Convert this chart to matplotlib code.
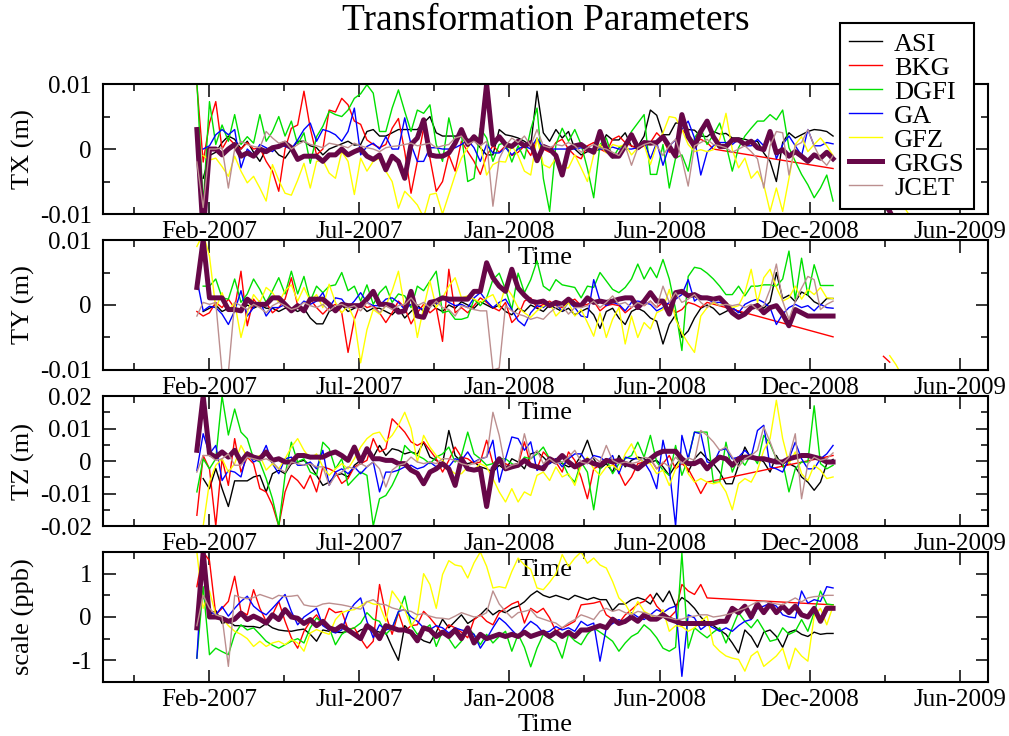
import numpy as np
import matplotlib.pyplot as plt
from matplotlib.lines import Line2D

plt.rcParams['font.family'] = ['Liberation Serif', 'DejaVu Serif']

centres = ["ASI", "BKG", "DGFI", "GA", "GFZ", "GRGS", "JCET"]
colours = ["black", "#ff0000", "#00e000", "#0000ff", "#ffff00", "#670748", "#bc8f8f"]
widths = [1.0, 1.0, 1.0, 1.0, 1.0, 3.6, 1.0]

# x axis is counted in weeks from the first weekly solution (late Jan 2007)
tick_weeks = [1.9, 25.8, 49.6, 73.5, 97.3, 121.2]
tick_labels = ["Feb-2007", "Jul-2007", "Jan-2008", "Jun-2008", "Dec-2008", "Jun-2009"]
minor_weeks = [-10.0, 13.8, 37.7, 61.5, 85.4, 109.2]

# ---- TX, mm (None = no solution that week) ----
tx_asi = [None, -4.5, -1, -0.5, 1, 2, 1.5, 0, 1.2, -0.5,
          -1.9, 0, 0.2, -0.9, -1.4, 0, 1.2, 1.2, 0.5, 0.2,
          -0.9, 0, 0.4, 0.8, 1.2, 0.6, 0.7, 2.7, 3, 2,
          2, 2.5, 3, 3, 3, 3, 4, 5, 2.5, 2,
          2, 2, 2, 1.5, 1.4, 0.2, -0.9, -0.9, 3, 2.2,
          2, 1.7, 1.2, 0.5, 8.9, 2.5, 1.2, 3, 1.7, 2.7,
          0, -0.9, -0.4, -0.2, -0.1, 2.2, 1.4, 1.4, 2.5, 0.4,
          0.4, 2, 6, 5.2, 2.2, 2.2, 4, 4, 3, 2.9,
          2, 1.9, 2.7, 2.3, 2.4, 1.7, 1.7, 1.5, 1.2, 1.2,
          -0.6, -1.9, -5, 1, 2.5, 1.7, 2.2, 2.7, 3, 2.9,
          2.7, 2]
tx_bkg = [9.9, -2, 4, 7.3, 0, 1.7, 0.7, 0, 1, 0,
          0.2, -1.9, -3.4, -6.5, 0, 3.2, 3.7, 8.9, 3.2, -0.9,
          0, 6, 5.7, 7.8, 6.8, 4.3, 3.8, 1.4, 0.7, 0.2,
          0.7, 3.2, 4.7, -0.4, -6.8, -1.9, 3.2, -1.4, -6.5, -5,
          -0.9, -3.4, 1.2, -0.4, -1.9, -3.9, -1, 0.5, -0.5, 0.5,
          -1, -0.5, 0.5, -1, 1.5, 0, -0.5, 1, 1.5, 0,
          -1, -1.5, 0.5, 1, 0, -0.5, 1.5, 2, 1, 0.5,
          0, 0.5, 1, 2.5, 1.5, -0.5, 0, 3, 2, 1,
          1.5, 1, 0, None, None, None, None, None, None, None,
          None, None, None, None, None, None, None, None, None, None,
          None, -3]
tx_dgfi = [10.4, -8.5, 7.3, 0.7, 3.7, 1.2, 5.3, 0.7, 1.9, 0.9,
           5.3, 1.2, 2.7, 5, 2, 4.3, 0.7, 2.5, -2.2, 1.9,
           3.5, 5.8, 5.3, 5, 6, 7.8, 8.5, 9.9, 8.6, 2.7,
           2.7, 6.3, 9.1, 5.8, 2.7, 6, 5.5, 6.8, 0.7, -1.9,
           4.8, 0.7, 2.2, -5, -4.5, 3.2, 1.7, -1.9, 0.7, 1,
           -2, 0.5, -1.5, 3, 6.3, -4.5, -9.6, 0.7, 3.2, 1.2,
           3, 0.7, -3, -7.5, 0.7, 1.7, -1.4, 0.2, 0.7, 2.7,
           4, 5.3, -3.9, -3.9, 0.7, -6, -1.4, -0.9, -3.4, 1.7,
           3.2, 0.7, 2.2, 4, 0.7, -3.4, 0.2, 2, 3.2, 4.3,
           4.3, 5.3, 4.5, 6, 0.2, -1.9, -3.9, -5.5, -7.5, -6,
           -4, -8]
tx_ga = [None, 0, 0.5, 2.2, 3, 2.2, 3, -2.9, 0, -0.9,
         0.7, 0.2, -0.4, 0.7, 0.4, 0, 1.4, 3, 4, 1.2,
         3, 2.7, 2.2, 1.2, 2.7, 6.3, -0.9, 0.4, 0.9, 0,
         1.9, 0, 0, 4.8, 0.7, -1.9, -1.9, 0.2, 0.2, 0,
         0, 0.2, 0.7, 1.4, 0.2, -1.9, 0.7, -0.6, -0.6, 0.2,
         -0.9, 0, 0.5, 0, 1.7, 0.2, 0, 0, 0, 0,
         0, 0.2, 0, 0, 0, 0, 0.3, 0, 0, 0,
         0.2, 1.2, -1.5, 1, -2.5, 0.5, 1.4, 3, 4.3, 1.7,
         -4, -0.5, 0.5, 1, 1, 0.7, 1.5, 0.5, 0.5, 1.5,
         0.5, 2.7, -1.5, 0.7, 2, 0.5, -1, 3, 0.5, 0.5,
         1, 0.8]
tx_gfz = [None, -1, -1.7, -1.4, -2.7, -4.2, -1.1, -3.4, -5.2, -4.2,
          -6, -8, -2.4, -4.8, -6.8, -7.1, -4.8, -2.2, -6, -1.9,
          -1.7, -3.7, -4.5, -0.4, -1.9, -7, -1.4, -3.4, -1.9, -1.4,
          -3.4, -5, -9.1, -6.5, -7.5, -8.6, -10.5, -7, -6.8, -10,
          -7, -4, -1.4, 0.2, 1.9, 0.7, -4, -2.4, -1.9, -2,
          0.5, -1, -3.4, -4, 1.7, -2.4, -2.9, -1.4, -2.9, -2.9,
          -0.9, -2.9, -5, -0.9, 0.7, -0.6, 0.7, 0.4, 0.7, -0.9,
          0.2, 0.7, -2.4, 0.7, 2.5, 5, 4.8, 3, 0.7, -0.4,
          -0.1, -0.4, -0.1, 1.5, 5.5, -0.1, -2.9, -1.4, -4.5, -3.4,
          -5.5, -9.6, -6, -9.6, -4.5, 0.7, 1.9, -0.4, 0.7, 1.7,
          0.5, -1]
tx_grgs = [3, -13, 0, 0, -0.9, 0, 0.7, -1.1, -0.6, -1.1,
           0, -0.4, 0.2, 0.4, 0.9, 0.2, -1.6, -1.1, -1.1, -1.1,
           -1.9, -0.9, -0.9, 0, -0.9, -0.4, 0, -1.1, -1.6, -0.9,
           -3.2, -1.1, -1.9, -4.5, 0.7, 1.7, 4.5, -0.9, -1.1, -1.1,
           -0.6, 0.9, 3, 0.7, 1.9, 0.9, 10, 0.7, 1.9, 0.7,
           0.4, 1.2, 0.5, 1, -1.8, 0.4, 0, -1, -4, 0,
           0.5, 0.7, 0, -0.5, 2.7, 0, -1.1, -1.1, 0.5, 2.2,
           0.2, 1, 0.9, 1, 1.9, 0.4, -1.1, 5.3, 1.9, 0.4,
           2.7, 4.3, 1.9, 0.4, 0.4, 1.4, 1.4, 0.7, 1.2, 0.2,
           -0.1, 2.7, -0.6, -0.1, -1.1, -0.4, -1.1, -1.9, -0.9, -1.4,
           -0.5, -1.5]
tx_jcet = [-2, -9, 0, 0, 0.2, -6, 0, 1.2, 0.7, 0.4,
           0.2, 2.7, 1.7, 0.9, 1.2, 0, 0.7, 1.2, 0.7, 0.5,
           0.2, 0.9, 0.7, 0.5, 0.2, 0.9, 0.5, 0.2, 0, -0.4,
           0.2, 0.4, 0.5, 0.7, 0.9, 0.5, 0.7, 0.9, 0.2, 0.5,
           0.7, 1.7, 2, 0.7, 1.2, 0.5, 1.2, -8.8, -1.5, 0.5,
           1.7, 1, 2, 0.5, 3, 0.5, 0.2, 0.7, 0.5, 1,
           0.5, -0.5, 0.2, 0.7, 0.2, 0, -0.5, -1, 0.5, -2.5,
           0.2, 0.7, 1, 0.5, -1, 0.5, 1.5, -1.5, -5.7, 0.5,
           1, 1.5, 0.7, 0.5, 0.2, -0.5, 0, 0.5, -0.4, -1.5,
           -6, 0.5, 2.7, 2.5, -4, 0.5, 1, 3, 0.5, -1.5,
           -2.5, -1]
# solutions after the winter gap: (first week, values)
tx_late = {"GRGS": (109, [-8.0, -9.6, -11.5]), "GFZ": (112, [-8.5, -10.0, -11.5])}

# ---- TY, mm ----
ty_asi = [None, -1, -0.5, 0, -1, -0.5, -0.5, -1, 0, -0.5,
          0, -0.5, -0.5, -1, -0.5, -0.5, -1, -0.5, -2, -2.9,
          -2.9, -1, -0.5, 0, -1, -0.5, 0, -1, -0.5, -0.5,
          -1, -1.5, -0.5, -2, -1, 0, -1, 0.5, -0.5, -1,
          0, -0.5, 0.5, 0, -0.5, 0.5, 0, -0.5, 0, -1,
          -1.5, -0.5, -1, 0, -0.5, -1, 0, -0.5, -1, -0.5,
          -1.5, -1, -0.5, -1.5, -3.6, -1, -0.5, -2, -3, -1,
          -0.5, -1, -2, -2.5, -6, -3, -1.5, -5, -4, -2,
          -0.5, 0, -0.5, -1.5, -1, -0.5, -1, -1.5, -0.5, 0.2,
          -0.5, 0.5, 5, 1, 1.5, 0.5, 2, 1.5, 0.5, 0,
          1, 1]
ty_bkg = [-1, -1.7, -1.2, 0.4, -0.4, 0.9, -0.5, 5.2, -3.2, 0.9,
          -0.4, 0.4, -1.2, -0.4, 0.9, 4.2, -0.1, -0.9, 0.9, -0.4,
          -1.4, -0.4, 0.1, -1.2, -7.3, -2.2, 0.4, -0.4, -0.1, -1.2,
          -2.7, -1.2, 0.6, -0.4, -2.9, -1.2, 0.1, -1.2, -0.4, -5.6,
          5.5, -1.2, -0.4, -1.2, -0.1, 1.1, 0.4, -0.4, -0.9, 0.4,
          -2.7, -1.7, 0.6, 1.1, -0.4, 0.1, 0.6, -0.1, -0.4, 0.4,
          0.9, -0.1, 0.1, 0.6, -0.9, -0.1, 0.1, -0.1, -1.2, -0.4,
          0.4, -0.1, 0.6, -0.4, 0.4, 0.1, -1.2, -0.7, 0.4, 0.1,
          -0.4, 0.4, None, None, None, None, None, None, None, None,
          None, None, None, None, None, None, None, None, None, None,
          None, -4.9]
ty_dgfi = [None, 2.9, 2.9, 4, 1.1, 0.9, 4, 0.4, 1.7, 4,
           2.4, 0.4, 2.2, 4.2, 1.7, 5.2, 1.7, 4.4, 0.6, 2.9,
           1.9, 2.9, 3.1, 5, 2.2, 2.9, 0.6, 3.1, 0.1, 1.9,
           2.9, 0.4, 1.7, 1.4, -0.4, 2.9, 2.2, 3.7, 5.2, -1.2,
           -0.9, -2.2, -2.2, -1.9, 0.9, -0.1, 1.1, 3.9, 4.9, 2.4,
           -0.7, 4.9, 1.9, 3.9, 6.8, 2.9, 2.2, 3.9, 3.1, 2.9,
           2.7, 1.1, 2.9, 2.7, 5, 3.7, 2.4, 1.9, 2.7, 4,
           6.3, 4, 5.8, 4.2, 7, 4, -0.7, -7, 4.4, 5.8,
           5.6, 4.9, 4, 2.9, 1.6, 1.6, 2.9, 1.4, 2.9, 2.9,
           3.1, 3.1, 2.9, 4, 8.3, 0.9, 7.2, 1.5, 6.2, 3,
           3, 3]
ty_ga = [4, -0.9, -0.2, -0.4, -1.4, -3, -0.9, 2.2, -1.7, -0.4,
         0.6, -1.7, -0.4, -0.4, 0.1, -0.7, -0.4, 0.6, 0.1, 0.6,
         1.9, -0.4, 1.1, 0.9, -0.4, 0.6, 1.9, 0.4, -0.1, -0.1,
         0.9, 1.1, 0.4, -0.7, 0.1, -0.4, -0.7, 0.6, 0.1, 1.1,
         0.4, -0.1, 0.1, -0.4, 1.1, 1.9, 0.6, -0.4, 0.4, 0.9,
         -0.7, -2.4, -3.2, -1.2, -0.1, -0.4, 0.4, 0.1, -0.9, 0.4,
         -0.4, -1.7, -1.9, 3.9, 0.6, -0.1, 0.4, 0.1, -0.9, 0.4,
         0.6, 0.4, 0.1, -0.9, -0.4, 0.4, 0.9, 1.6, 3.9, 0.6,
         1.4, 0.9, 0.4, 0.4, 0.1, -0.4, -1.2, 0.1, 0.6, 0.9,
         0.4, -0.4, -3, -1.4, -0.4, 0.1, -0.4, -0.1, -0.9, 0.1,
         -0.4, -0.5]
ty_gfz = [9, 11, 7.5, -0.5, 1.9, -0.9, 0.4, -5, -1.2, 1.6,
          0.4, 2.7, 1.9, 0.4, 2.2, 3.1, 0.6, 2.7, 0.6, 1.6,
          -0.4, 3.2, 0.4, -1.2, -0.1, -2.2, -8.9, -3.8, -0.7, -1.4,
          -0.1, 2.2, 5.2, -0.4, 1.1, -5, -0.4, 3.7, -0.4, 1.1,
          2.9, 4.2, 1.1, 1.4, 0.9, 0.4, 1.1, 1.6, -0.4, 2.9,
          1.5, -0.4, -1.2, -1.9, -0.9, -0.2, 0.4, -1.7, -0.7, 0.4,
          -1.7, -0.7, -2.7, -4.8, -1.2, -5, -2.2, -0.4, -6, -1.7,
          -5, -2.7, -3.7, -1.2, -0.7, 2.4, -2.2, -4.3, -5.9, -7.3,
          -1.7, -0.4, 0.4, -0.1, 0.4, -0.4, -0.1, 1.9, 5.5, 0.4,
          4.2, 5.5, 2.7, 0.6, 1.1, 2.9, 0.9, 2.4, 1.6, 2.7,
          1.1, 1]
ty_grgs = [2.7, 10, 1.1, 1.1, 1.1, -0.7, -0.7, -0.9, 0.9, 0.1,
           0.1, 0.1, 1.1, 1.1, 0.1, -0.9, -0.1, -0.9, 0.9, 0.9,
           0.9, 0.1, -0.9, 0.1, -0.1, -0.1, -0.1, 0.9, 2.1, 0.1,
           0.1, -0.1, -1.1, -0.9, 2.1, -1.7, -1.9, 0.4, 0.6, 1.1,
           0.9, 0.9, 0.9, 0.9, 2.1, 2.1, 6.5, 4.2, 2.9, 2.1,
           5.5, 2.6, 1.5, 0.6, 0.4, 0.6, -0.1, 0.4, 0.1, 0.9,
           0.1, -0.1, 1.1, 0.4, 0.6, 0.4, 0.6, 0.9, 1.1, 1.1,
           -0.4, 0.6, 1.9, 0.6, 0.6, -1.4, 1.9, 2.1, 1.4, 1.6,
           1.1, 1.1, 0.9, 1.1, 0.1, -1.2, -1.9, -1.4, -0.4, -0.1,
           -1.2, -0.4, -0.1, -1.4, -3.2, -0.7, -1.2, -1.7, -1.7, -1.7,
           -1.7, -1.7]
ty_jcet = [-1.7, 0.4, 0.1, 0.4, -10.4, -10.4, 0.4, -0.1, -0.7, 0.1,
           -0.4, -1.2, -0.1, 0.4, -0.1, -0.7, -0.4, 0.4, -0.1, -0.4,
           0.1, -0.9, -0.1, 0.1, -0.4, -0.1, -0.9, 0.4, -0.4, -1.2,
           -0.1, -0.7, -0.1, 0.1, 1.1, -0.1, 0.4, -0.4, 0.6, -0.4,
           -0.7, -1.7, -0.1, -0.4, -0.7, -0.9, -0.9, -10, -9.7, -0.1,
           -0.9, -1.4, -1.7, -2.2, -1.9, -2.2, -1.2, -0.4, -0.1, -1.4,
           -0.4, -0.4, -0.1, 0.6, -0.4, 0.4, 1.4, 0.1, 0.4, -0.4,
           0.4, -0.1, 0.6, -0.4, 2.9, 0.4, 1.9, 0.4, 0.9, 1.6,
           0.4, -0.4, 0.6, -0.1, 0.1, -0.1, 0.1, -0.4, 0.1, -0.7,
           -0.1, 2.4, 6.3, 0.6, -2.2, 0.6, 2.6, 4.4, 3.9, -0.7,
           0.1, 0.6]
ty_late = {"BKG": (109, [-7.9, -8.8]), "GFZ": (110, [-7.8, -9.2, -11.0])}

# ---- TZ, mm ----
tz_asi = [None, -5.4, -8.5, -2.3, -8.5, -14, -6.1, -6.1, -6.1, -4.9,
          -4.4, -9.5, -3.9, -2.8, -3.9, -0.8, -0.3, 0.2, -1.3, -4.4,
          -7.5, -6.5, -4.4, -3.9, -4.9, -1.3, 0.2, 3.3, 1.2, 4.8,
          1.7, 3.8, 3.3, 2.2, 2.8, 2.2, 5.8, 1.2, 0.2, -0.8,
          9.4, 1.7, -0.3, -0.8, -0.3, -1.8, -2.4, -3.4, -1.3, -2.8,
          0.7, -0.3, -2.4, 2.2, 2.8, 1.2, -0.8, 0.7, -0.8, -1.8,
          -1.3, 1.7, 6.4, 0.7, -2.4, -0.8, -3.4, 1.7, -1.8, 0.2,
          1.2, 0.7, -0.3, 0.2, -1.8, -4.4, -1.3, 1.2, -3.4, 0.7,
          2.8, 0.7, -0.8, -3.4, -7, -7, -1.3, 4.3, 0.7, 1.2,
          -0.3, -3.4, 1.7, -1.8, -0.8, -1.8, -4.9, -6.5, -9, -6.5,
          -0.8, 0.5]
tz_bkg = [-16.7, 1.7, -2.4, -20, 0.7, -7.5, 6.9, -3.4, 1.2, -0.8,
          -8.5, -9.5, -13.6, -20, -9.5, -4.4, -6, -8.5, -4.4, -9.5,
          -1.8, -2.4, -3.4, -6.9, -5.4, -1.8, -0.8, 0.2, 6.9, 2.8,
          3.8, 13, 11, 8.9, 5.9, 4.8, 5.9, 3.3, 0.7, -3.4,
          0.2, 4.3, 1.2, 0.7, -0.8, -0.3, 6.4, -0.8, -0.3, -0.8,
          -1.8, -1.3, 5.9, -1.3, -2.4, 2.8, 0.7, -0.3, -3.4, 2.8,
          0.2, -5, -11.6, -2.4, -1.3, 0.7, -0.8, -3.4, -7.5, -4.9,
          -0.8, -0.3, 0.7, -2.4, -0.8, 1.7, -2.4, -0.8, -2.4, -6,
          -10, -6.5, None, None, None, None, None, None, None, None,
          None, None, None, None, None, None, None, None, None, None,
          None, 1.7]
tz_dgfi = [-9.5, 0.7, -2.4, 0.7, 20, 8, 16, 8.9, 6.9, 0.7,
           -0.3, -5.4, -11.6, -20, -4.4, 5.8, -0.3, 0.7, -3.4, -4.4,
           5.8, 3.8, -2.4, 0.7, -7.5, -5.4, -3.4, -4.4, -20, -11.6,
           -10.6, -7.5, -3.4, 4.8, 2.8, 1.7, 0.7, -0.8, 1.2, 2.2,
           4.3, -0.3, 1.7, 8.9, 2.2, 0.7, -1.3, -0.8, 0.7, 0.7,
           -0.8, -1.8, 1.2, 0.7, 2.2, 4.3, 0.7, -0.3, -0.3, -4.4,
           -6.5, -0.3, -3.4, -15, -2.4, 0.7, -3.9, -0.8, 0.7, 1.7,
           5.8, 1.2, 7.9, -0.3, -2.8, -4.4, 4.8, -4.4, 0.7, 8.9,
           8.9, 8.9, -6.5, -6.5, 5.8, -3.4, 1.2, -1.3, 2.2, -0.8,
           7.9, 5.3, 0.7, -0.3, -9.5, -2.4, -0.3, -0.3, 17, -0.8,
           -2.4, -1.3]
tz_ga = [-2.9, 8.4, 2.2, 4.8, -6, -2.9, -3.4, -4.9, 2.8, -0.3,
         0.7, 4.8, -0.8, -3.9, 0.7, 1.2, -1.3, -1.3, -0.3, -2.4,
         3.3, -7.5, -3.4, -2.4, -3.9, -1.8, -3.9, -1.8, -0.3, -9.5,
         -3.4, -3.4, -2.8, -1.8, -1.3, -2.4, -1.8, -0.3, -1.8, -0.8,
         -1.8, 0.7, 0.2, 2.8, -0.3, 0.7, 1.2, 6.4, -6.5, 0.7,
         7.4, 6.9, 3.3, 5.9, -2.9, -1.3, -0.8, 0.7, -1.8, 0.7,
         2.2, 2.2, -0.8, 1.7, 1.2, -0.3, 1.7, -3.9, 1.2, 0.7,
         0.7, -0.3, -3.4, -8.5, 6.4, -2.4, -20, 7.9, 0.7, 8.9,
         8.4, -0.3, -0.8, 3.3, 3.8, 0.7, 1.2, 3.3, 1.2, 9.4,
         11, -1.8, -2.4, -3.4, 0.7, 5.8, 0.7, -2.4, -2.4, 0.7,
         2.2, 4.8]
tz_gfz = [None, -20, -6.5, -1.3, 0.7, -3.4, -0.8, 4.8, 1.2, 0.7,
          1.7, -2.8, -0.8, -2.4, 0.7, 4.3, 6.9, 3.3, 0.7, 2.2,
          -1.8, -4.4, -2.4, -0.8, -2.4, 0.7, 4.3, 6.9, 8.4, 8.9,
          5.9, 7.9, 11, 15, 10, -0.3, 7.9, 4.3, 1.7, 0.2,
          -2.4, -3.9, -3.9, -1.8, -2.8, -0.8, -1.8, -5.4, -9.5, -12.6,
          -8.5, -12.6, -9.5, -10.6, -4.4, -3.4, -6, -1.8, -4.9, -3.9,
          -7.5, -1.3, 1.2, -2.4, -4.4, -1.8, -1.3, -2.8, 2.2, 5.3,
          0.7, -0.3, -0.8, -3.9, -2.8, -7.5, -2.4, 1.2, -3.9, -6.5,
          -5.4, -6.5, -7, -6.5, -9.5, -15, -7, -5.4, -6.5, -2.8,
          3.3, 6.9, 18.7, 6.9, -0.8, 2.8, -3.9, -6, -1.3, -2.8,
          -5.4, -4.9]
tz_grgs = [3.3, 20, 2.3, 1.2, 2.8, 1.2, 3.3, -0.3, 2.2, 1.2,
           0.7, 2.8, 0.2, 0.7, -0.3, -0.3, 1.7, 1.7, 1.2, 1.2,
           1.2, 2.2, 2.8, 1.7, 0.2, 4.3, -0.3, 3.8, 0.7, 0.7,
           0.2, 0.2, -0.8, -0.8, -2.8, -3.8, -7, -3.4, -2.4, -0.8,
           -2.4, -7.5, 0.7, -2.4, -2.8, -2.4, -14, -2.4, 0.7, -2.4,
           -1.8, -1.3, 0.2, -1.3, -1.8, -2.4, 0.7, -0.3, 1.7, -0.3,
           -1.8, -0.8, 0.2, -0.8, -1.3, 0.2, -0.3, 0.2, -0.8, -1.3,
           -2.4, -0.8, 0.7, 2.2, 3, 3, 3, 0.7, -0.8, -0.8,
           0.2, -2.4, -0.3, 1.2, 0.7, -1.3, 0.7, 1.2, 1.2, 0.7,
           0.7, 0.2, -0.3, -0.3, 0.7, 1.2, 1.7, 1.7, 1.2, 0.7,
           -0.3, -0.3]
tz_jcet = [-3.4, 1.7, 1.7, 0.2, 0.7, 2.2, -1.3, -1.3, 1.2, 0.7,
           0.2, 0.7, -0.3, -2.4, -3.4, -0.3, -0.8, -1.3, -0.8, -1.8,
           -1.8, -7.5, -4.4, -3.4, -1.8, -2.4, -0.8, -1.8, -0.3, -2.4,
           -8, -2.8, -1.3, -0.8, 1.2, -0.3, -0.8, -0.3, -0.8, 0.7,
           0.7, 0.2, -0.8, -1.3, -0.8, 0.7, 1.2, 15, 7.9, -2.4,
           -1.3, -0.8, 8.4, 0.7, 3.3, -0.8, 0.7, -0.8, -0.3, 1.2,
           3.3, -0.3, -0.8, 1.2, -0.3, 4.8, 0.2, -0.8, -0.3, -0.8,
           -0.3, 1.2, 0.7, -2.4, -0.3, -1.8, 1.2, -0.8, 1.0, 0.2,
           9.4, 7.9, 5.9, 3.3, 4.3, 1.2, -1.8, 0.7, 1.7, 3.3,
           10.5, 5.9, 0.7, -0.8, 1.2, 8.4, -11.6, -0.8, 1.2, 0.2,
           0.7, 2.5]

# ---- scale, ppb ----
sc_asi = [None, 0.5, 0.05, 0.15, -0.15, -0.1, -0.2, -0.2, -0.22, -0.22,
          -0.25, -0.15, -0.25, -0.3, -0.32, -0.33, -0.3, -0.28, -0.4, -0.56,
          -0.3, -0.33, -0.35, -0.36, -0.33, -0.4, -0.3, -0.25, -0.3, -0.35,
          -0.37, -0.7, -1, -0.2, -0.35, -0.45, -0.55, -0.6, -0.35, -0.05,
          -0.25, -0.1, 0.05, -0.15, -0.05, 0.05, 0.2, 0.05, 0.15, 0.1,
          0.2, 0.25, 0.35, 0.5, 0.6, 0.5, 0.45, 0.5, 0.45, 0.4,
          0.5, 0.45, 0.4, 0.45, 0.4, 0.4, 0.15, 0.3, 0.3, 0.4,
          0.45, 0.4, 0.3, 0.55, 0.35, 0.6, 0.25, 0.45, 0.35, 0.2,
          0.0, -0.15, -0.2, -0.3, -0.4, -0.6, -0.83, -0.3, -0.45, -0.7,
          -0.35, -0.3, -0.45, -0.7, -0.35, -0.3, -0.4, -0.45, -0.35, -0.4,
          -0.38, -0.38]
sc_bkg = [0.7, 1.5, 1.3, 0.05, 0.2, 0.36, 0.94, 0.13, 0.05, 0.63,
          0.2, -0.1, 0.05, 0.36, -0.1, -0.48, -0.72, -0.33, -0.1, 0.05,
          -0.18, 0.2, 0.1, 0.13, -0.29, -0.25, -0.5, -0.72, -0.56, 0.75,
          0.05, -0.4, 0.1, -0.33, -0.2, -0.18, 0.13, -0.02, -0.2, -0.4,
          -0.18, -0.25, -0.35, -0.48, -0.06, 0.05, -0.1, -0.18, 0.1, 0.2,
          0.3, 0.36, -0.14, 0.2, 0.1, 0.2, -0.02, -0.33, -0.25, -0.18,
          -0.1, 0.28, 0.3, 0.32, 0.36, 0.05, -0.05, -0.14, 0.05, 0.17,
          0.3, 0.36, 0.52, 0.25, 0.1, -0.02, 0.13, 0.75, 0.6, 0.52,
          0.75, 0.44, None, None, None, None, None, None, None, None,
          None, None, None, None, None, None, None, None, None, None,
          None, 0.28]
sc_dgfi = [-0.95, 0.7, -0.87, -0.72, -0.8, -0.87, -0.4, -0.18, -0.3, -0.25,
           -0.4, -0.56, -0.65, -0.72, -0.64, -0.56, -0.5, -0.6, -0.25, -0.02,
           -0.15, -0.25, -0.64, -0.4, -0.3, -0.25, -0.14, 0.1, -0.05, -0.1,
           -0.4, -0.25, 0.1, 0.48, -0.18, -0.4, -0.3, -0.18, -0.68, -0.33,
           -0.5, -0.72, -0.56, -0.25, -0.4, -0.64, -0.4, -0.6, -0.45, -0.33,
           -0.79, -0.4, -0.7, -1.15, -0.72, -0.4, -0.5, -0.6, -0.95, -0.4,
           -0.55, -0.64, -0.4, -0.25, -0.35, -0.45, -0.56, -0.79, -0.6, -0.45,
           -0.37, -0.18, -0.3, -0.48, -0.72, -0.79, -0.7, 1.48, -0.72, -0.25,
           -0.37, -0.48, -0.35, -0.25, -0.6, -0.25, 0.1, -0.1, -0.25, -0.06,
           -0.3, -0.56, -0.52, -0.25, -0.4, -0.33, -0.06, -0.33, 0.1, 0.6,
           0.3, 0.28]
sc_ga = [-0.95, 1.5, 0.13, 0.05, 0.24, 0.02, 0.2, 0.36, 0.48, 0.25,
         0.13, 0.05, 0.2, 0.36, 0.52, 0.13, -0.18, 0.0, 0.1, 0.2,
         -0.2, -0.3, -0.37, -0.3, 0.1, 0.3, 0.44, -0.1, -0.48, -0.18,
         -0.3, -0.25, 0.13, 0.17, 0.0, -0.1, -0.25, -0.29, -0.2, -0.25,
         -0.37, -0.25, -0.3, -0.33, -0.4, -0.72, -0.5, -0.25, -0.02, -0.14,
         -0.3, -0.45, -0.25, -0.1, -0.2, -0.37, -0.33, -0.22, -0.3, -0.25,
         -0.33, -0.1, -0.2, -0.14, -1.02, -0.25, -0.15, -0.06, -0.14, 0.1,
         0.0, -0.06, 0.05, 0.17, 0.1, 0.2, 0.25, -1.37, 0.05, -0.02,
         -0.29, -0.18, -0.25, -0.33, -0.25, -0.33, -0.2, -0.1, -0.06, 0.2,
         0.25, 0.32, 0.25, 0.05, 0.0, -0.02, 0.6, 0.32, 0.4, 0.36,
         0.7, 0.67]
sc_gfz = [1.5, 0.2, 0.6, 0.05, -0.02, -0.2, -0.33, -0.4, -0.5, -0.68,
          -0.56, -0.68, -0.6, -0.56, -0.64, -0.52, -0.6, -0.79, -0.37, -0.29,
          -0.35, -0.4, -0.06, 0.1, 0.15, 0.17, 0.25, 0.36, 0.3, 0.28,
          -0.1, 0.6, 0.4, 0.17, -0.22, 0.02, 1.0, 0.75, 0.2, 0.98,
          1.3, 1.2, 1.17, 0.9, 1.25, 1.5, 1.17, 0.67, 0.7, 0.67,
          1.05, 1.36, 1.2, 1.1, 0.67, 0.63, 0.8, 1.0, 1.44, 1.17,
          1.36, 1.5, 1.24, 1.36, 1.2, 1.13, 0.82, 0.44, 0.3, 0.05,
          0.36, 0.13, 0.05, -0.06, 0.17, -0.33, -0.2, -0.22, -0.33, -0.25,
          -0.1, 0.02, -0.64, -0.79, -0.9, -0.95, -0.98, -1.25, -0.9, -0.79,
          -1.14, -1.02, -0.9, -0.72, -1.2, -0.72, -0.9, -1.02, 0.02, 0.2,
          -0.18, 0.25]
sc_grgs = [-0.25, 1.5, 0, 0.0, -0.03, -0.1, -0.05, 0.09, -0.06, 0.02,
           -0.05, -0.14, 0.05, -0.06, 0.17, 0.0, -0.03, -0.15, -0.06, -0.2,
           -0.1, -0.25, -0.3, -0.2, -0.3, -0.4, -0.5, -0.2, -0.3, -0.5,
           -0.2, -0.25, -0.3, -0.3, -0.35, -0.55, -0.25, -0.3, -0.45, -0.35,
           -0.45, -0.3, -0.5, -0.25, -0.6, -0.4, -0.5, -0.45, -0.4, -0.45,
           -0.4, -0.45, -0.35, -0.45, -0.4, -0.35, -0.45, -0.35, -0.45, -0.35,
           -0.45, -0.3, -0.3, -0.25, -0.2, -0.25, -0.05, -0.15, -0.1, 0,
           -0.1, 0.05, -0.05, -0.05, 0.05, -0.05, -0.1, -0.15, -0.15, -0.15,
           -0.15, -0.15, -0.15, -0.1, -0.1, 0.2, 0.1, 0.25, 0.0, 0.3,
           0.1, 0.3, 0.1, 0.25, 0.1, 0.25, 0.05, 0.0, 0.2, -0.1,
           0.2, 0.2]
sc_jcet = [-0.2, 0.5, 0.2, 0.05, 0.0, -1.14, 0.5, 0.45, 0.42, 0.45,
           0.52, 0.47, 0.42, 0.5, 0.47, 0.48, 0.5, 0.28, 0.25, 0.24,
           0.3, 0.32, 0.3, 0.28, 0.25, 0.21, 0.18, 0.35, 0.4, 0.3,
           0.28, 0.21, 0.17, 0.15, 0.13, 0.05, 0.08, 0.02, -0.02, -0.03,
           -0.05, 0.02, 0.1, 0.05, 0.0, 0.02, 0.1, 0.6, 0.3, 0.13,
           -0.02, 0.1, 0.13, 0.17, 0.0, -0.05, -0.1, -0.14, -0.25, -0.14,
           -0.06, 0.05, 0.0, -0.06, 0.13, 0.2, 0.13, 0.17, 0.1, 0.05,
           0.13, 0.1, 0.05, 0.02, 0.0, -0.02, -0.06, -0.05, 0.0, 0.02,
           0.05, 0.05, 0.0, 0.02, 0.05, 0.09, 0.15, 0.2, 0.28, 0.35,
           0.36, 0.33, 0.3, 0.28, 0.36, 0.44, 0.35, 0.44, 0.47, 0.48,
           0.5, 0.5]

panels = [
    ("TX (m)", [tx_asi, tx_bkg, tx_dgfi, tx_ga, tx_gfz, tx_grgs, tx_jcet], tx_late, 1e-3,
     (-0.01, 0.01), [-0.01, 0, 0.01], ["-0.01", "0", "0.01"], [-0.005, 0.005]),
    ("TY (m)", [ty_asi, ty_bkg, ty_dgfi, ty_ga, ty_gfz, ty_grgs, ty_jcet], ty_late, 1e-3,
     (-0.01, 0.01), [-0.01, 0, 0.01], ["-0.01", "0", "0.01"], [-0.005, 0.005]),
    ("TZ (m)", [tz_asi, tz_bkg, tz_dgfi, tz_ga, tz_gfz, tz_grgs, tz_jcet], {}, 1e-3,
     (-0.02, 0.02), [-0.02, -0.01, 0, 0.01, 0.02], ["-0.02", "-0.01", "0", "0.01", "0.02"],
     [-0.015, -0.005, 0.005, 0.015]),
    ("scale (ppb)", [sc_asi, sc_bkg, sc_dgfi, sc_ga, sc_gfz, sc_grgs, sc_jcet], {}, 1.0,
     (-1.5, 1.5), [-1, 0, 1], ["-1", "0", "1"], [-0.5, 0.5]),
]

fig = plt.figure(figsize=(10.09, 7.36), dpi=100)
bottoms = [0.7092, 0.4973, 0.2853, 0.0734]

for (ylabel, series, late, unit, ylim, yt, ytl, ymin), b in zip(panels, bottoms):
    ax = fig.add_axes([0.1021, b, 0.8771, 0.1766])
    ax.set_facecolor("none")
    for vals, colour, lw in zip(series, colours, widths):
        v = np.array(vals, dtype=float) * unit
        wk = np.arange(len(v))
        ok = np.isfinite(v)
        ax.plot(wk[ok], v[ok], color=colour, lw=lw)
    for name, (start, vals) in late.items():
        i = centres.index(name)
        ax.plot(start + np.arange(len(vals)), np.array(vals) * unit,
                color=colours[i], lw=widths[i])
    ax.set_xlim(-14.9, 125.6)
    ax.set_ylim(*ylim)
    ax.set_xticks(tick_weeks)
    ax.set_xticklabels(tick_labels)
    ax.set_xticks(minor_weeks, minor=True)
    ax.set_yticks(yt)
    ax.set_yticklabels(ytl)
    ax.set_yticks(ymin, minor=True)
    ax.tick_params(which="both", direction="in", top=True, right=True, width=1.1,
                   labelsize=18)
    ax.tick_params(which="major", length=9)
    ax.tick_params(which="minor", length=5)
    ax.tick_params(axis="x", pad=5)
    ax.tick_params(axis="y", pad=8)
    for s in ax.spines.values():
        s.set_linewidth(1.5)
    ax.set_ylabel(ylabel, fontsize=19)
    ax.yaxis.set_label_coords(-0.077, 0.5)
    ax.set_xlabel("Time", fontsize=19)
    ax.xaxis.set_label_coords(0.5, -0.25)

fig.text(546 / 1009, 1 - 21 / 736, "Transformation Parameters", ha="center", va="center",
         fontsize=27)

handles = [Line2D([], [], color=c, lw=w) for c, w in zip(colours, widths)]
leg = fig.legend(handles, centres, loc="upper left", bbox_to_anchor=(840 / 1009, 1 - 23 / 736),
                 fontsize=19, frameon=True, fancybox=False, edgecolor="black", framealpha=1,
                 borderpad=0.35, handlelength=1.25, handletextpad=0.45, labelspacing=0.02,
                 borderaxespad=0)
leg.get_frame().set_linewidth(1.5)

plt.savefig("out.png", dpi=100)
